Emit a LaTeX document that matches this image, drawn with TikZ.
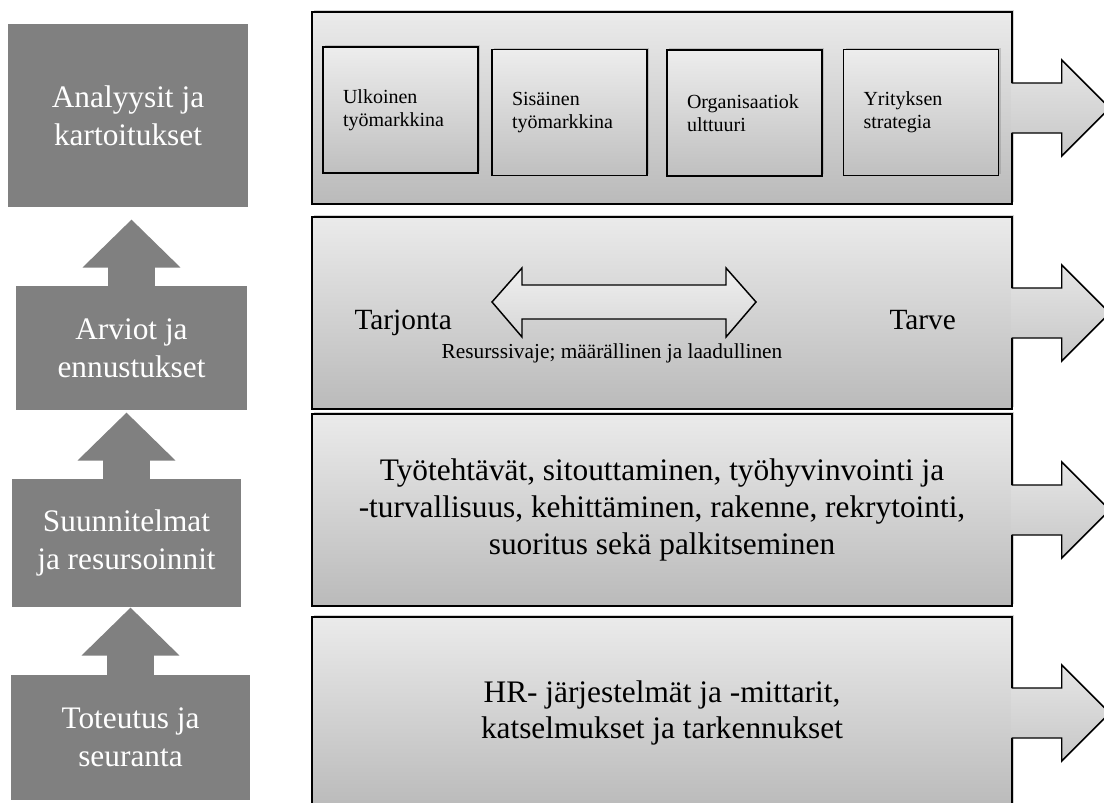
\documentclass[tikz,border=0pt]{standalone}
\usepackage{fontspec}
\setmainfont{Liberation Serif}
\usetikzlibrary{arrows.meta,shadows,calc}

\tikzset{every picture/.style={line width=0.75pt}}
\tikzset{
  stagebox/.style={fill=black!50, text=white, align=center, inner sep=0pt, font=\fontsize{23.5}{28.5}\selectfont},
  uparrow/.style={draw=black!50, line width=35.25pt, -{Triangle[length=36pt,width=71.25pt]}},
  panel/.style={draw=black, line width=1.1pt, top color=black!8, bottom color=black!27, minimum width=525pt, minimum height=144pt, align=center, font=\fontsize{23.5}{27.5}\selectfont, drop shadow={shadow xshift=1.5pt, shadow yshift=1.5pt, opacity=0.35}},
  inbox/.style={draw=black, line width=1.1pt, top color=black!7, bottom color=black!25, minimum width=116.25pt, minimum height=94.5pt, text width=86.25pt, inner xsep=15pt, align=left, font=\fontsize{15}{17}\selectfont, drop shadow={shadow xshift=1.5pt, shadow yshift=1.5pt, opacity=0.35}},
  outarrow/.style={draw=black, line width=1.1pt, top color=black!10, bottom color=black!22},
}

\begin{document}
\begin{tikzpicture}[x=0.75pt,y=0.75pt,yscale=-1,xscale=1]
\useasboundingbox (0,0) rectangle (1104,803);

%Left column: stages
\node [stagebox, minimum width=180pt, minimum height=137.25pt] (analysis) at (128,115.5) {Analyysit ja\\kartoitukset};
\node [stagebox, minimum width=173.25pt, minimum height=93pt] (forecast) at (131.5,348) {Arviot ja\\ennustukset};
\node [stagebox, minimum width=171.75pt, minimum height=96pt] (planning) at (126.5,543) {Suunnitelmat\\ja resursoinnit};
\node [stagebox, minimum width=179.25pt, minimum height=93.75pt] (followup) at (130.5,737.5) {Toteutus ja\\seuranta};

%Up arrows
\draw [uparrow, shorten >=9pt] (forecast.north) -- (forecast.north |- analysis.south);
\draw [uparrow, shorten >=1.5pt] (planning.north) -- (planning.north |- forecast.south);
\draw [uparrow] (followup.north) -- (followup.north |- planning.south);

%Right column: panels
\node [panel] (p1) at (662,108) {};
\node [panel] (p2) at (662,313) {};
\node [panel] (p3) at (662,510) {Työtehtävät, sitouttaminen, työhyvinvointi ja\\-turvallisuus, kehittäminen, rakenne, rekrytointi,\\suoritus sekä palkitseminen};
\node [panel] (p4) at (662,713) {HR- järjestelmät ja -mittarit,\\katselmukset ja tarkennukset};

%Inner boxes of the first panel
\node [inbox] (extmarket) at (400.5,110) {Ulkoinen\\työmarkkina};
\node [inbox] (intmarket) at (569.5,112.5) {Sisäinen\\työmarkkina};
\node [inbox] (culture) at (744.5,113) {Organisaatiok\\ulttuuri};
\node [inbox] (strategy) at (921,112.5) {Yrityksen\\strategia};

%Double arrow of the second panel
\draw [outarrow, top color=black!6, bottom color=black!16] (492,302) -- (522,268) -- (522,285) -- (726,285) -- (726,268) -- (756,302) -- (726,337) -- (726,319) -- (522,319) -- (522,337) -- cycle ;

% Text Node
\node [anchor=base west, inner sep=0pt, font=\fontsize{22}{26}\selectfont] (supply) at (354,329) {Tarjonta};
% Text Node
\node [anchor=base west, inner sep=0pt, font=\fontsize{22}{26}\selectfont] (demand) at (889,329) {Tarve};
% Text Node
\node [anchor=base, inner sep=0pt, font=\fontsize{16}{19}\selectfont] (gap) at (612,358) {Resurssivaje; määrällinen ja laadullinen};

%Out arrows
\foreach \p in {p1,p2,p3,p4}
  \draw [outarrow] ($(\p.east)+(-1,-25)$) -- ++(50,0) -- ++(0,-23) -- ++(48,48) -- ++(-48,48) -- ++(0,-23) -- ++(-50,0);

\end{tikzpicture}
\end{document}
